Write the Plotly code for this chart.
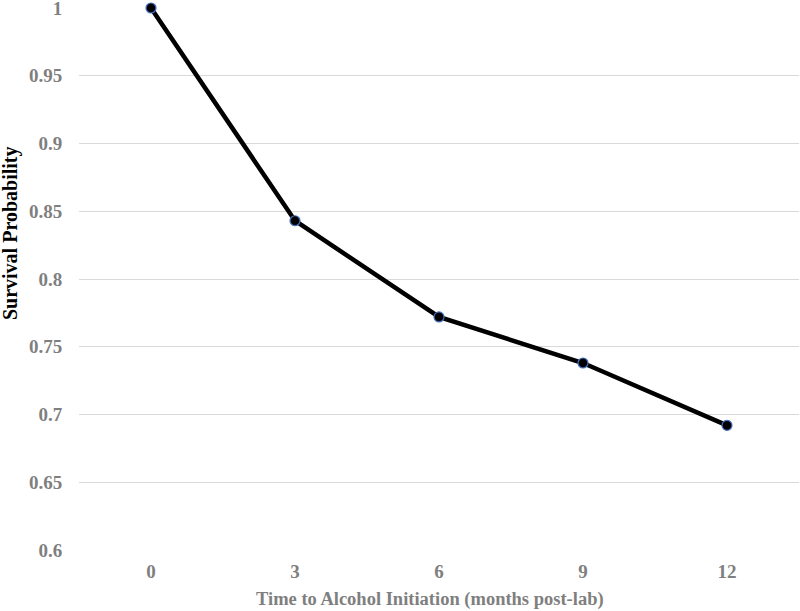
import plotly.graph_objects as go

months = ["0", "3", "6", "9", "12"]
survival = [1.0, 0.843, 0.772, 0.738, 0.692]
y_ticks = [0.6, 0.65, 0.7, 0.75, 0.8, 0.85, 0.9, 0.95, 1.0]
y_tick_labels = ["0.6", "0.65", "0.7", "0.75", "0.8", "0.85", "0.9", "0.95", "1"]
x_title = "Time to Alcohol Initiation (months post-lab)"
y_title = "Survival Probability"

fig = go.Figure()
fig.add_trace(go.Scatter(
    x=months, y=survival, mode="lines+markers",
    line=dict(color="black", width=4.5),
    marker=dict(size=10, color="black", line=dict(color="#4472C4", width=1.2)),
    cliponaxis=False,
))

font_family = "Liberation Serif, Times New Roman, serif"
fig.update_layout(
    width=800, height=611,
    margin=dict(l=79, r=1, t=8, b=61),
    paper_bgcolor="white", plot_bgcolor="white",
    showlegend=False,
    font=dict(family=font_family),
    xaxis=dict(
        type="category", range=[-0.5, 4.5], automargin=False,
        showgrid=False, zeroline=False, showline=False,
        tickvals=months, ticktext=["<b>%s</b>" % m for m in months],
        tickfont=dict(size=19, color="#7f7f7f", family=font_family),
        ticks="outside", ticklen=4, tickcolor="rgba(0,0,0,0)",
    ),
    yaxis=dict(
        range=[0.6, 1.0], automargin=False, ticklabeloverflow="allow",
        tickvals=y_ticks, ticktext=["<b>%s</b>" % t for t in y_tick_labels],
        showgrid=True, gridcolor="#d9d9d9", gridwidth=1,
        zeroline=False, showline=False,
        tickfont=dict(size=19, color="#7f7f7f", family=font_family),
        ticks="outside", ticklen=12, tickcolor="rgba(0,0,0,0)",
    ),
    annotations=[
        dict(text="<b>%s</b>" % x_title, xref="paper", yref="paper",
             x=0.487, y=-0.092, xanchor="center", yanchor="middle", showarrow=False,
             font=dict(size=18.5, color="#7f7f7f", family=font_family)),
        dict(text="<b>%s</b>" % y_title, xref="paper", yref="paper",
             x=-0.095, y=0.584, xanchor="center", yanchor="middle", showarrow=False,
             textangle=-90,
             font=dict(size=20, color="black", family=font_family)),
    ],
)

fig.write_html("out.html", config={"displayModeBar": False},
               post_script="document.body.style.margin='0';")
